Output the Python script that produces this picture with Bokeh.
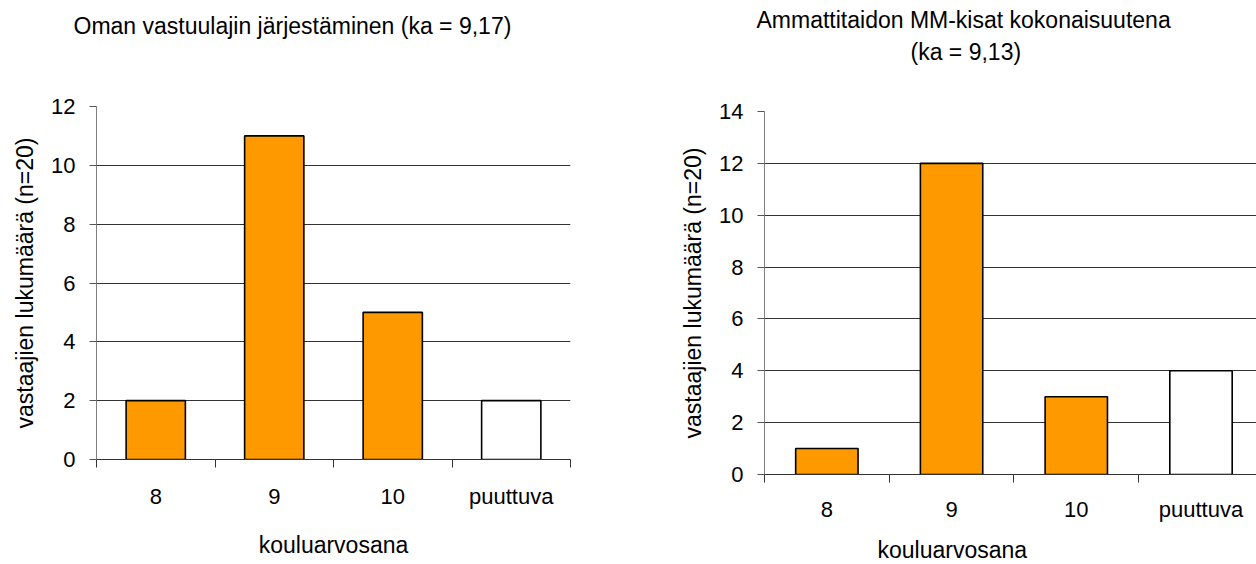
from bokeh.plotting import figure
from bokeh.layouts import row, column
from bokeh.models import Range1d, FixedTicker, Title, ColumnDataSource
from bokeh.embed import file_html
from bokeh.resources import INLINE

# ---- data -------------------------------------------------------------
categories = ["8", "9", "10", "puuttuva"]
left_counts = [2, 11, 5, 2]
right_counts = [1, 12, 3, 4]
bar_colors = ["#FF9900", "#FF9900", "#FF9900", "#FFFFFF"]
left_yticks = [0, 2, 4, 6, 8, 10, 12]
right_yticks = [0, 2, 4, 6, 8, 10, 12, 14]
left_title = "Oman vastuulajin järjestäminen (ka = 9,17)"
right_title_lines = ["Ammattitaidon MM-kisat  kokonaisuutena", "(ka = 9,13)"]
x_label = "kouluarvosana"
y_label = "vastaajien lukumäärä (n=20)"

FONT = "Liberation Sans"
TICK_SIZE = "22px"
LABEL_SIZE = "23px"


def make_chart(counts, yticks, width, height, b_left, b_right, b_top, b_bottom,
               x_end, xtick_standoff):
    centers = [i + 0.5 for i in range(len(categories))]
    bounds = list(range(len(categories) + 1))
    p = figure(width=width, height=height, output_backend="svg", toolbar_location=None,
               x_range=Range1d(0, x_end), y_range=Range1d(yticks[0], yticks[-1]),
               min_border_left=b_left, min_border_right=b_right,
               min_border_top=b_top, min_border_bottom=b_bottom)
    p.outline_line_color = None
    p.background_fill_color = "white"
    p.border_fill_color = "white"

    src = ColumnDataSource(dict(x=centers, top=counts, color=bar_colors))
    p.vbar(x="x", top="top", bottom=0, width=0.5, source=src,
           fill_color="color", line_color="black", line_width=1.6)

    # x axis: labels at category centres, tick marks at category boundaries
    xa = p.xaxis[0]
    xa.ticker = FixedTicker(ticks=centers, minor_ticks=bounds)
    xa.major_label_overrides = {c: cat for c, cat in zip(centers, categories)}
    xa.major_tick_line_color = None
    xa.minor_tick_line_color = "#333333"
    xa.minor_tick_in = 0
    xa.minor_tick_out = 8
    xa.axis_line_color = "#333333"
    xa.major_label_standoff = xtick_standoff
    xa.major_label_text_font = FONT
    xa.major_label_text_font_size = TICK_SIZE
    xa.major_label_text_color = "black"

    ya = p.yaxis[0]
    ya.ticker = FixedTicker(ticks=yticks)
    ya.minor_tick_line_color = None
    ya.major_tick_in = 0
    ya.major_tick_out = 7
    ya.major_tick_line_color = "#555555"
    ya.axis_line_color = "#808080"
    ya.major_label_standoff = 14
    ya.major_label_text_font = FONT
    ya.major_label_text_font_size = TICK_SIZE
    ya.major_label_text_color = "black"
    ya.axis_label = y_label
    ya.axis_label_text_font = FONT
    ya.axis_label_text_font_size = LABEL_SIZE
    ya.axis_label_text_font_style = "normal"
    ya.axis_label_text_color = "black"
    ya.axis_label_standoff = 10

    p.xgrid.visible = False
    p.ygrid.ticker = FixedTicker(ticks=yticks)
    p.ygrid.grid_line_color = "#333333"
    p.ygrid.grid_line_width = 1
    return p


def style_title(t, text, offset, valign="bottom", standoff=0):
    t.text = text
    t.align = "left"
    t.offset = offset
    t.vertical_align = valign
    t.standoff = standoff
    t.text_font = FONT
    t.text_font_size = LABEL_SIZE
    t.text_font_style = "normal"
    t.text_color = "black"


def spacer(gap):
    # blank (no-break space) title used only as vertical padding in a side panel
    return Title(text="\u00a0", text_font_size="1px", text_color="white", standoff=gap)


# ---- left chart -------------------------------------------------------
left = make_chart(left_counts, left_yticks, 640, 564, 96, 70, 106, 105,
                  len(categories), 16)
xa = left.xaxis[0]
xa.axis_label = x_label
xa.axis_label_text_font = FONT
xa.axis_label_text_font_size = LABEL_SIZE
xa.axis_label_text_font_style = "normal"
xa.axis_label_text_color = "black"
xa.axis_label_standoff = 20
style_title(left.title, left_title, -23)
left.add_layout(spacer(65), "above")

# ---- right chart ------------------------------------------------------
right = make_chart(right_counts, right_yticks, 616, 564, 124, 0, 110, 90,
                   3.945, 14)
style_title(right.title, right_title_lines[0], -8, valign="bottom", standoff=8)
right.add_layout(spacer(44), "above")
t2 = Title()
style_title(t2, right_title_lines[1], 146)
right.add_layout(t2, "above")

right.add_layout(spacer(9), "below")
tb = Title()
style_title(tb, x_label, 113, valign="top")
right.add_layout(tb, "below")

layout = row(column(left), column(right))
open("out.html", "w").write(file_html(layout, INLINE))
